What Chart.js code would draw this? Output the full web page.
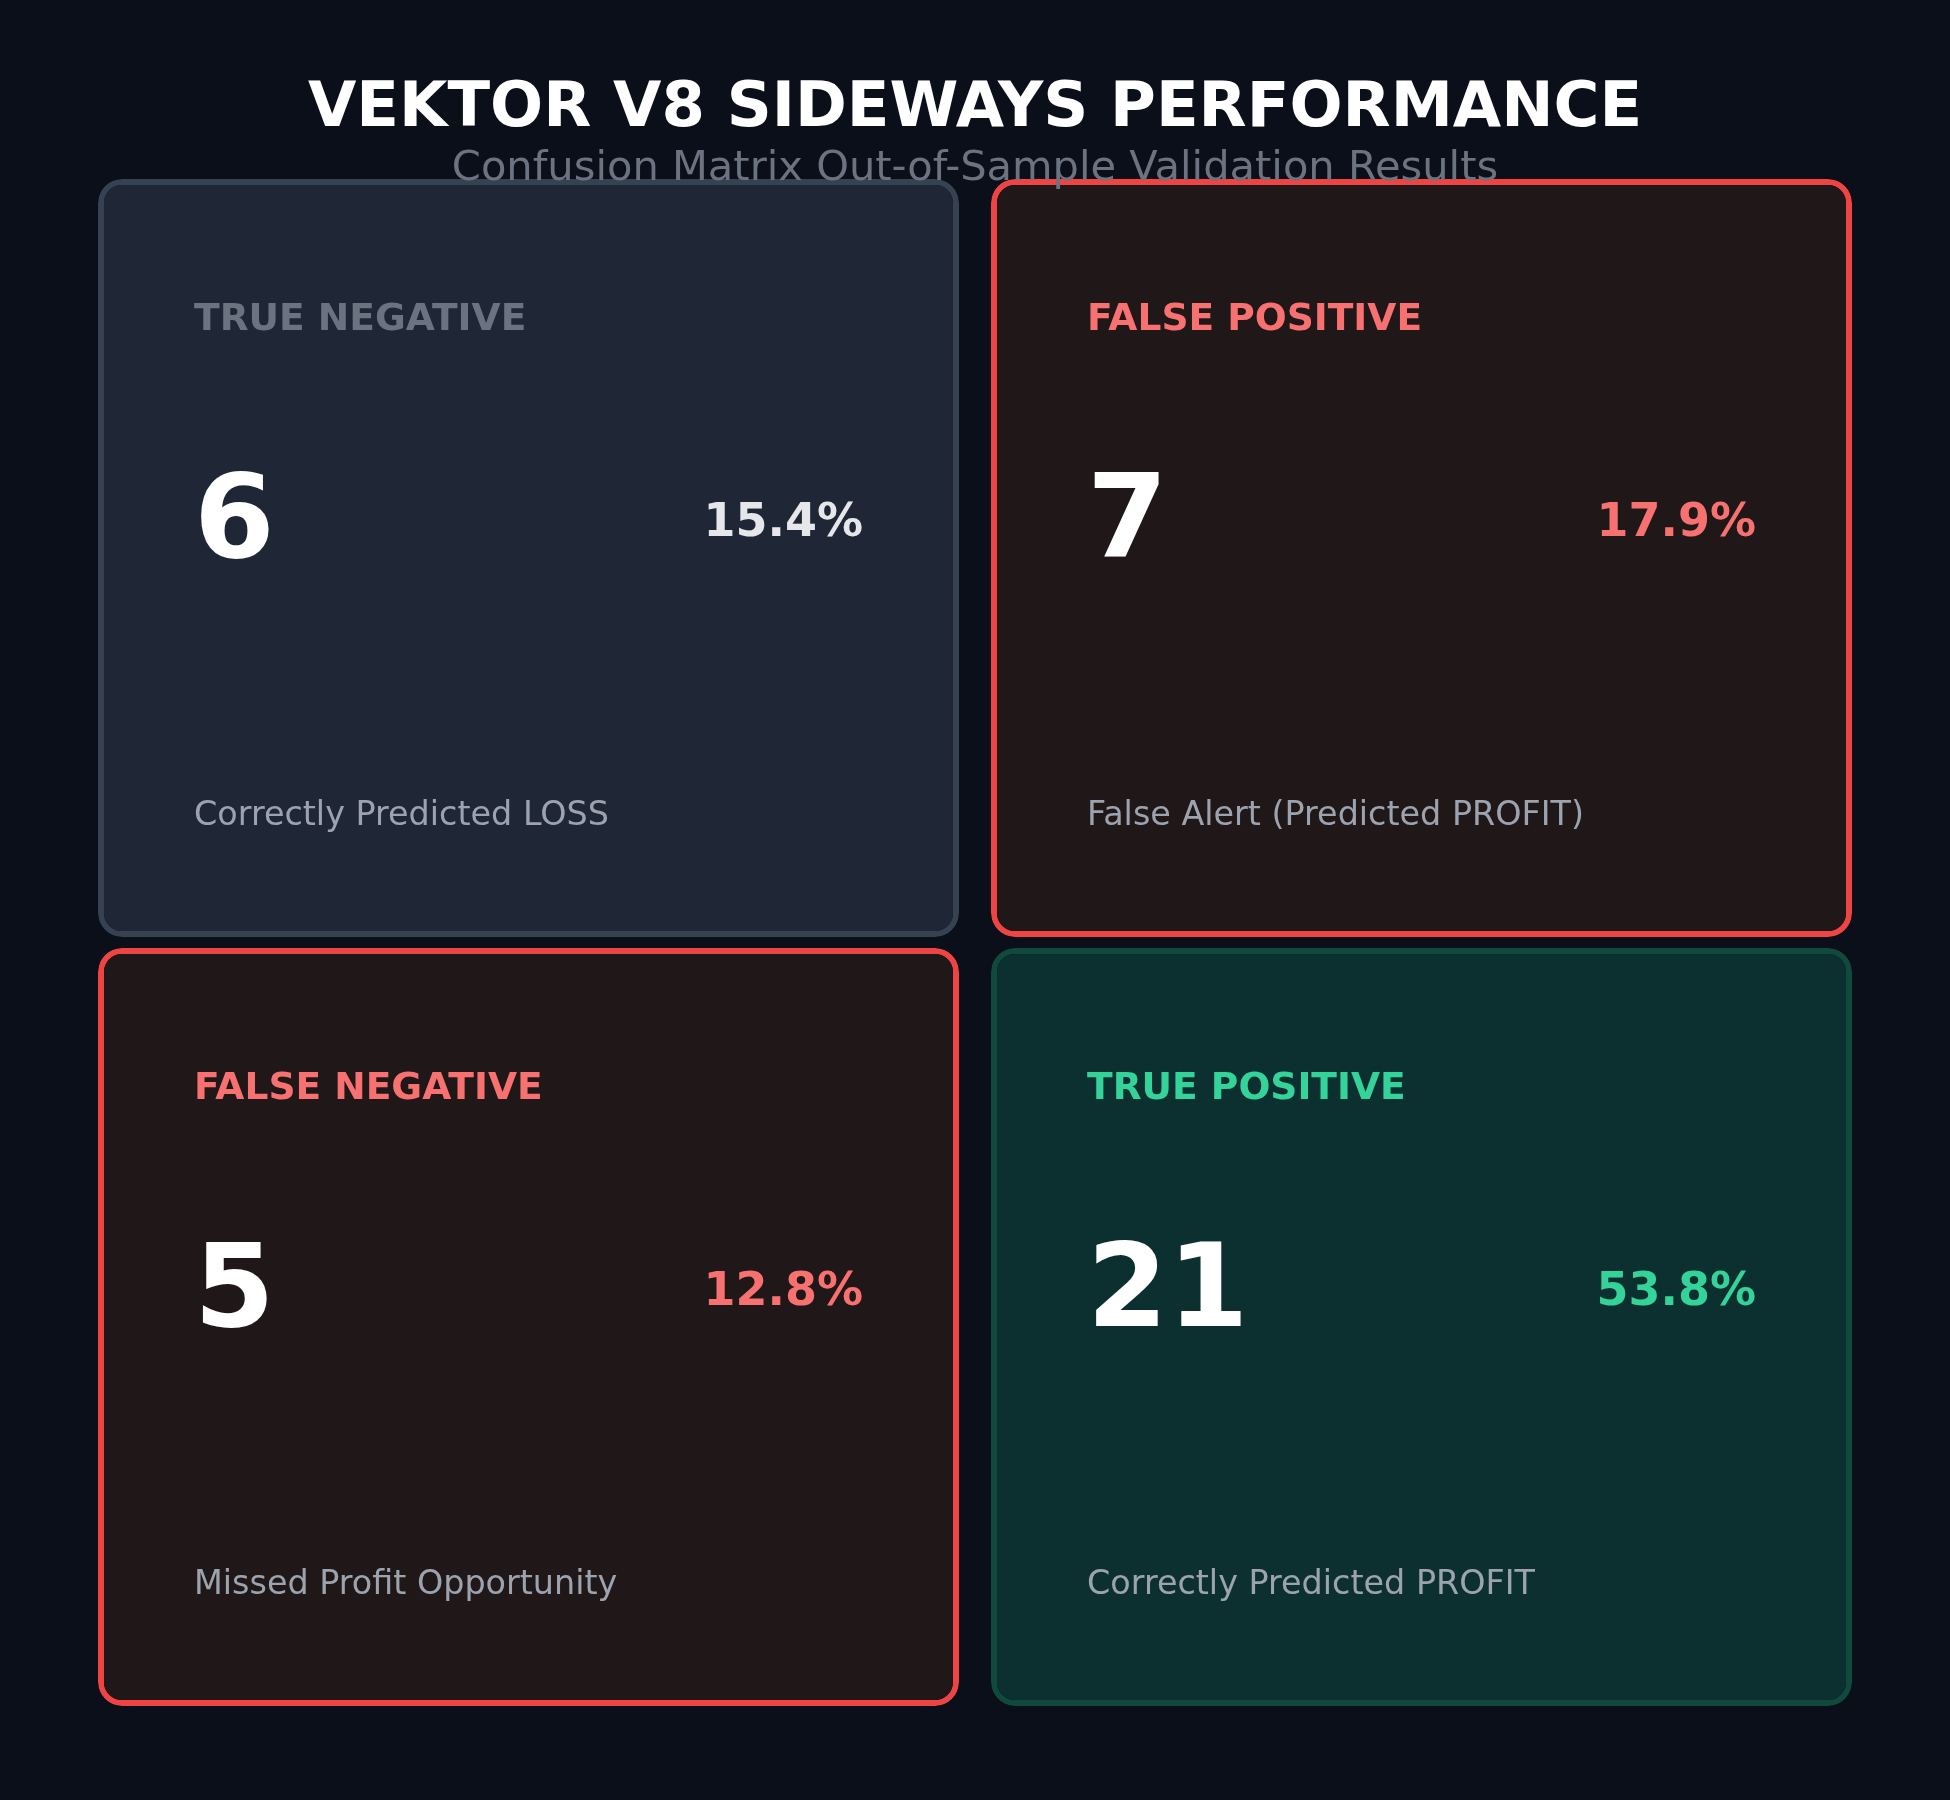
<!DOCTYPE html>
<html>
<head>
<meta charset="utf-8">
<title>VEKTOR V8 Sideways Performance</title>
<script src="https://cdn.jsdelivr.net/npm/chart.js@4.4.1/dist/chart.umd.min.js"></script>
<style>
  html, body { margin: 0; padding: 0; background: #0b0f19; }
  canvas { display: block; }
</style>
</head>
<body>
<canvas id="matrixChart" width="1950" height="1800"></canvas>
<script>
// confusion matrix data (rows = actual, columns = predicted)
const predictedLabels = ['Predicted LOSS', 'Predicted PROFIT'];
const actualLabels = ['Actual LOSS', 'Actual PROFIT'];
const lossRowCounts = [6, 7];
const profitRowCounts = [5, 21];
const lossRowPercents = ['15.4%', '17.9%'];
const profitRowPercents = ['12.8%', '53.8%'];
const lossRowNames = ['TRUE NEGATIVE', 'FALSE POSITIVE'];
const profitRowNames = ['FALSE NEGATIVE', 'TRUE POSITIVE'];
const lossRowNotes = ['Correctly Predicted LOSS', 'False Alert (Predicted PROFIT)'];
const profitRowNotes = ['Missed Profit Opportunity', 'Correctly Predicted PROFIT'];

const chartTitle = 'VEKTOR V8 SIDEWAYS PERFORMANCE';
const chartSubtitle = 'Confusion Matrix Out-of-Sample Validation Results';

var FONT = "'DejaVu Sans', 'Liberation Sans', sans-serif";
var CELL_FILL = 758 / 769; // share of a row taken by a card

// per-cell look: fill, border, name colour, percent colour
var lossRowStyle = {
    fill: ['#1f2636', '#201719'],
    border: ['#364152', '#ef4444'],
    nameColor: ['#6b7280', '#f87171'],
    pctColor: ['#e5e7eb', '#f87171']
};
var profitRowStyle = {
    fill: ['#201719', '#0c2f2f'],
    border: ['#ef4444', '#104a3d'],
    nameColor: ['#f87171', '#34d399'],
    pctColor: ['#f87171', '#34d399']
};

function rowData(rowIndex, counts) {
    return counts.map(function (c, i) {
        return { x: predictedLabels[i], y: [rowIndex, rowIndex + CELL_FILL], count: c };
    });
}

var rows = [
    { counts: lossRowCounts, pcts: lossRowPercents, names: lossRowNames, notes: lossRowNotes, style: lossRowStyle },
    { counts: profitRowCounts, pcts: profitRowPercents, names: profitRowNames, notes: profitRowNotes, style: profitRowStyle }
];

const cellText = {
    id: 'cellText',
    afterDatasetsDraw: function (chart) {
        var ctx = chart.ctx;
        ctx.save();
        rows.forEach(function (row, r) {
            var meta = chart.getDatasetMeta(r);
            meta.data.forEach(function (bar, i) {
                var left = bar.x - bar.width / 2;
                var right = bar.x + bar.width / 2;
                var top = Math.min(bar.y, bar.base);
                ctx.textBaseline = 'alphabetic';

                ctx.textAlign = 'left';
                ctx.fillStyle = row.style.nameColor[i];
                ctx.font = 'bold 37.6px ' + FONT;
                ctx.fillText(row.names[i], left + 96, top + 151);

                ctx.fillStyle = '#ffffff';
                ctx.font = 'bold 116px ' + FONT;
                ctx.fillText(String(row.counts[i]), left + 96, top + 378);

                ctx.textAlign = 'right';
                ctx.fillStyle = row.style.pctColor[i];
                ctx.font = 'bold 46px ' + FONT;
                ctx.fillText(row.pcts[i], right - 96, top + 357);

                ctx.textAlign = 'left';
                ctx.fillStyle = '#9ca3af';
                ctx.font = '33.4px ' + FONT;
                ctx.fillText(row.notes[i], left + 96, top + 646);
            });
        });

        // headings go on top of the cards, like the original
        ctx.textAlign = 'center';
        ctx.fillStyle = '#ffffff';
        ctx.font = 'bold 62.5px ' + FONT;
        ctx.fillText(chartTitle, 975, 126);
        ctx.fillStyle = '#6b7280';
        ctx.font = '41.6px ' + FONT;
        ctx.fillText(chartSubtitle, 975, 180);
        ctx.restore();
    }
};

const config = {
    type: 'bar',
    data: {
        labels: predictedLabels,
        datasets: rows.map(function (row, r) {
            return {
                label: actualLabels[r],
                data: rowData(r, row.counts),
                backgroundColor: row.style.fill,
                borderColor: row.style.border,
                borderWidth: 6,
                borderRadius: 24,
                borderSkipped: false,
                inflateAmount: 0,
                grouped: false,
                categoryPercentage: 1,
                barPercentage: 861 / 893
            };
        })
    },
    options: {
        responsive: false,
        animation: false,
        layout: {
            padding: { left: 82, right: 82, top: 179, bottom: 83 }
        },
        scales: {
            x: { display: false },
            y: { display: false, min: 0, max: 2, reverse: true }
        },
        plugins: {
            legend: { display: false },
            tooltip: { enabled: false }
        }
    },
    plugins: [cellText]
};

const chart = new Chart(document.getElementById('matrixChart'), config);
</script>
</body>
</html>
